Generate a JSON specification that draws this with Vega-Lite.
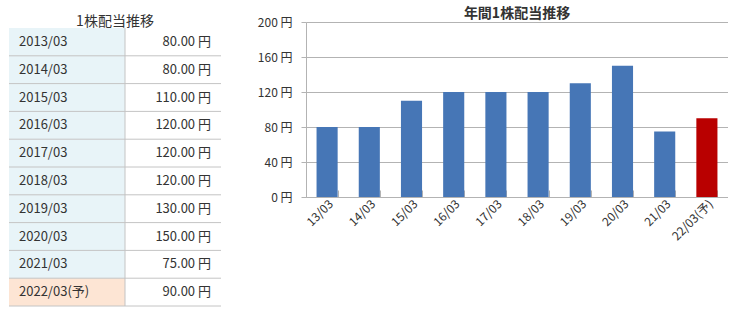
{
  "$schema": "https://vega.github.io/schema/vega-lite/v6.json",
  "padding": {"left": 8, "top": 7, "right": 0, "bottom": 0},
  "background": "white",
  "config": {
    "view": {"stroke": null},
    "font": "Noto Sans CJK JP",
    "concat": {"spacing": 35}
  },
  "datasets": {
    "div": [
      {"年度": "2013/03", "短": "13/03", "配当": 80, "区分": "実績"},
      {"年度": "2014/03", "短": "14/03", "配当": 80, "区分": "実績"},
      {"年度": "2015/03", "短": "15/03", "配当": 110, "区分": "実績"},
      {"年度": "2016/03", "短": "16/03", "配当": 120, "区分": "実績"},
      {"年度": "2017/03", "短": "17/03", "配当": 120, "区分": "実績"},
      {"年度": "2018/03", "短": "18/03", "配当": 120, "区分": "実績"},
      {"年度": "2019/03", "短": "19/03", "配当": 130, "区分": "実績"},
      {"年度": "2020/03", "短": "20/03", "配当": 150, "区分": "実績"},
      {"年度": "2021/03", "短": "21/03", "配当": 75, "区分": "実績"},
      {"年度": "2022/03(予)", "短": "22/03(予)", "配当": 90, "区分": "予想"}
    ]
  },
  "hconcat": [
    {
      "data": {"name": "div"},
      "width": 212,
      "height": 284,
      "title": {"text": "1株配当推移", "fontSize": 14, "fontWeight": "normal", "color": "#333333", "anchor": "middle", "offset": -7},
      "transform": [
        {"calculate": "format(datum['配当'], '.2f') + ' 円'", "as": "表示"}
      ],
      "encoding": {
        "y": {"field": "年度", "type": "nominal", "sort": null, "axis": null, "scale": {"paddingInner": 0, "paddingOuter": 0.108, "align": 1}}
      },
      "layer": [
        {
          "mark": {"type": "rect"},
          "encoding": {
            "x": {"datum": 0, "type": "quantitative", "scale": {"domain": [0, 212], "nice": false, "zero": false}, "axis": null},
            "x2": {"datum": 116},
            "fill": {"field": "区分", "type": "nominal", "scale": {"domain": ["実績", "予想"], "range": ["#e8f4f8", "#fde5d4"]}, "legend": null}
          }
        },
        {
          "mark": {"type": "rule", "color": "#c4c4c4", "strokeWidth": 1},
          "encoding": {
            "x": {"datum": 0, "type": "quantitative"},
            "x2": {"datum": 212},
            "y": {"field": "年度", "type": "nominal", "sort": null, "bandPosition": 1}
          }
        },
        {
          "mark": {"type": "tick", "color": "#c4c4c4", "thickness": 1, "size": 28, "opacity": 1},
          "encoding": {
            "x": {"datum": 116, "type": "quantitative"},
            "y": {"field": "年度", "type": "nominal", "sort": null}
          }
        },
        {
          "mark": {"type": "text", "align": "left", "baseline": "middle", "fontSize": 13, "color": "#333333"},
          "encoding": {
            "x": {"datum": 10, "type": "quantitative"},
            "text": {"field": "年度"}
          }
        },
        {
          "mark": {"type": "text", "align": "right", "baseline": "middle", "fontSize": 13, "color": "#333333"},
          "encoding": {
            "x": {"datum": 202, "type": "quantitative"},
            "text": {"field": "表示"}
          }
        }
      ]
    },
    {
      "data": {"name": "div"},
      "width": 422,
      "height": 175,
      "title": {"text": "年間1株配当推移", "fontSize": 14, "fontWeight": "bold", "color": "#333333", "anchor": "middle", "offset": -5},
      "mark": {"type": "bar"},
      "encoding": {
        "x": {
          "field": "短", "type": "nominal", "sort": null,
          "scale": {"paddingInner": 0.5, "paddingOuter": 0.25},
          "axis": {"title": null, "labelAngle": -45, "labelFontSize": 12, "labelColor": "#333333", "domainColor": "#b3b3b3", "tickColor": "#b3b3b3", "tickSize": -7, "tickBand": "extent", "labelPadding": 8, "grid": false}
        },
        "y": {
          "field": "配当", "type": "quantitative",
          "scale": {"domain": [0, 200], "nice": false},
          "axis": {"title": null, "values": [0, 40, 80, 120, 160, 200], "labelExpr": "datum.value + ' 円'", "labelFontSize": 12, "labelColor": "#333333", "domainColor": "#b3b3b3", "tickColor": "#b3b3b3", "gridColor": "#b3b3b3", "tickSize": 5, "labelPadding": 9}
        },
        "color": {"field": "区分", "type": "nominal", "scale": {"domain": ["実績", "予想"], "range": ["#4676b6", "#b90000"]}, "legend": null}
      }
    }
  ]
}
